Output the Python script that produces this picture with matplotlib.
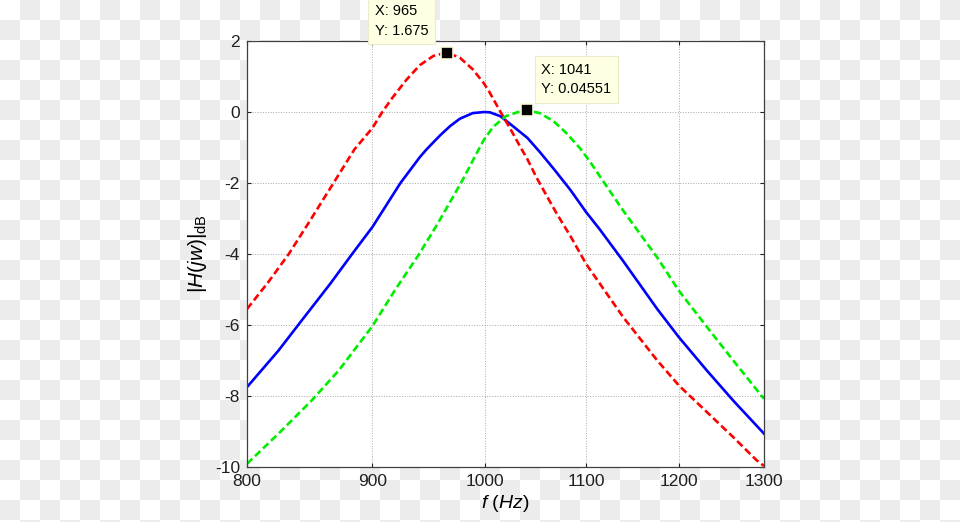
import matplotlib
matplotlib.use("Agg")
import matplotlib.pyplot as plt
import numpy as np
from matplotlib.ticker import FixedFormatter, NullLocator

# frequency (Hz) / magnitude (dB)
blue_f = [800, 824, 842, 865, 883, 900, 924, 941, 947, 959, 968, 977, 989, 1000,
          1005, 1015, 1027, 1041, 1053, 1067, 1084, 1100, 1114, 1139, 1176, 1200,
          1232, 1263, 1300]
blue_db = [-7.75, -6.72, -5.88, -4.84, -4.00, -3.24, -2.00, -1.27, -1.05, -0.66, -0.40,
           -0.19, -0.03, 0.0, -0.01, -0.12, -0.40, -0.73, -1.12, -1.60, -2.20, -2.82,
           -3.30, -4.20, -5.55, -6.34, -7.28, -8.13, -9.06]

red_f = [800, 816, 832, 847, 865, 885, 900, 908, 917, 929, 941, 953, 965, 977, 989,
         999, 1004, 1016, 1024, 1034, 1041, 1050, 1060, 1070, 1084, 1100, 1139, 1176,
         1200, 1232, 1263, 1291, 1300]
red_db = [-5.55, -4.80, -4.00, -3.16, -2.15, -1.05, -0.45, -0.02, 0.40, 0.90, 1.32,
          1.58, 1.675, 1.53, 1.20, 0.82, 0.59, -0.05, -0.45, -0.98, -1.33, -1.85, -2.36,
          -2.86, -3.50, -4.28, -5.78, -7.00, -7.70, -8.45, -9.16, -9.81, -9.97]

green_f = [800, 824, 850, 872, 900, 920, 940, 956, 968, 980, 991, 999, 1008, 1020,
           1031, 1041, 1053, 1067, 1080, 1094, 1104, 1114, 1139, 1176, 1200, 1232,
           1263, 1300]
green_db = [-9.91, -9.06, -8.13, -7.28, -6.03, -4.98, -4.02, -3.19, -2.54, -1.89,
            -1.25, -0.80, -0.42, -0.12, -0.01, 0.04551, -0.03, -0.26, -0.60, -1.03,
            -1.40, -1.80, -2.78, -4.10, -5.03, -6.05, -7.00, -8.08]

tips = [(965, 1.675), (1041, 0.04551)]

x_ticks = [800, 900, 1000, 1100, 1200, 1300]
y_ticks = [-10, -8, -6, -4, -2, 0, 2]

W, H = 960, 522
plt.rcParams["font.family"] = ["Liberation Sans", "DejaVu Sans"]
plt.rcParams["axes.unicode_minus"] = False
plt.rcParams["mathtext.fontset"] = "custom"
plt.rcParams["mathtext.rm"] = "Liberation Sans"
plt.rcParams["mathtext.it"] = "Liberation Sans:italic"

fig = plt.figure(figsize=(W / 100, H / 100), dpi=100)

# checkerboard backdrop (20 px squares) as in the source image
yy, xx = np.indices((H, W))
odd = ((yy // 20 + xx // 20) % 2).astype(bool)
rgb = np.ones((H, W, 3))
rgb[odd] = 236 / 255
fig.figimage(rgb, xo=0, yo=0, origin="upper", zorder=-5)

ax = fig.add_axes([247 / W, 1 - 467 / H, 517 / W, 426 / H])
ax.set_facecolor("white")

ax.plot(blue_f, blue_db, color="#0000ff", lw=1.9, solid_joinstyle="round")
ax.plot(green_f, green_db, color="#00ee00", lw=1.9, dashes=(2.8, 1.4))
ax.plot(red_f, red_db, color="#ff0000", lw=1.9, dashes=(2.8, 1.4))

ax.set_xscale("log")
ax.set_xlim(800, 1300)
ax.set_ylim(-10, 2)
ax.set_xticks(x_ticks)
ax.xaxis.set_major_formatter(FixedFormatter([str(t) for t in x_ticks]))
ax.xaxis.set_minor_locator(NullLocator())
ax.set_yticks(y_ticks)
ax.grid(True, color="#a8a8a8", ls=":", lw=0.7)
ax.tick_params(direction="in", length=3, width=0.8, top=True, right=True,
               labelsize=12.5, pad=5, colors="#202020")
for s in ax.spines.values():
    s.set_color("#404040")
    s.set_linewidth(0.9)

ax.set_xlabel(r"$f$ $(Hz)$", fontsize=14, labelpad=3)
ax.set_ylabel(r"$|H(jw)|_{\mathrm{dB}}$", fontsize=15, labelpad=4)

# data tips
offsets = [(-72, 15), (14, 14)]
for (fx, fy), off in zip(tips, offsets):
    ax.plot([fx], [fy], marker="s", ms=8, color="black", mec="#fbf8d8", mew=1.2,
            zorder=6, clip_on=False)
    ax.annotate(f"X: {fx}\nY: {fy:g}", xy=(fx, fy), xytext=off,
                textcoords="offset pixels", ha="left", va="bottom", fontsize=10.5,
                linespacing=1.5, zorder=7, annotation_clip=False,
                bbox=dict(boxstyle="square,pad=0.45", fc="#ffffe3", ec="#ecebcc", lw=0.8))

fig.savefig("out.png", dpi=100)
